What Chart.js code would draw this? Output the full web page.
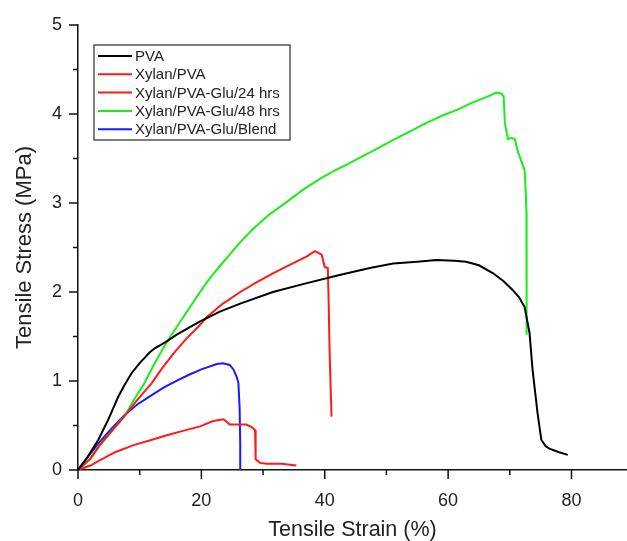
<!DOCTYPE html>
<html>
<head>
<meta charset="utf-8">
<script src="https://cdn.jsdelivr.net/npm/chart.js@4.4.1/dist/chart.umd.min.js"></script>
<style>
  body { margin: 0; background: #fff; }
  canvas { display: block; }
</style>
</head>
<body>
<canvas id="chart" width="627" height="541"></canvas>
<script>
// Datos: deformacion (%) y esfuerzo (MPa)
const strainPVA = [0, 1.5, 3.3, 5, 6.5, 7.5, 8.7, 10.1, 10.8, 11.6, 12.5, 13.5, 14.5, 16, 17.5, 19.8, 23, 26.3, 31.6, 37.1, 42.4, 47.3, 51.1, 55, 58.1, 61, 62.9, 65, 67.3, 69, 70.5, 71.5, 72.4, 73.2, 73.7, 74.5, 75.1, 75.8, 76.4, 78, 79.4];
const stressPVA = [0, 0.14, 0.34, 0.58, 0.82, 0.95, 1.09, 1.21, 1.26, 1.32, 1.37, 1.41, 1.45, 1.52, 1.58, 1.67, 1.78, 1.87, 2.0, 2.1, 2.19, 2.27, 2.32, 2.34, 2.36, 2.35, 2.34, 2.3, 2.21, 2.12, 2.02, 1.94, 1.83, 1.54, 1.12, 0.64, 0.34, 0.27, 0.24, 0.2, 0.17];

const strainXylan = [0, 2, 3.6, 6, 9, 12, 14.4, 17, 19.8, 21.9, 23.6, 24.6, 26, 27.3, 28.2, 28.7, 28.8, 29.5, 30.6, 33, 35.4];
const stressXylan = [0, 0.05, 0.11, 0.2, 0.28, 0.34, 0.39, 0.44, 0.49, 0.55, 0.57, 0.51, 0.51, 0.51, 0.48, 0.45, 0.12, 0.08, 0.07, 0.07, 0.05];

const strain24 = [0, 2, 3.5, 5.5, 7.6, 9.5, 11.9, 13.5, 15.5, 17.5, 19.5, 20.9, 23.5, 26.3, 29, 31.6, 34.5, 37.1, 38.4, 39.5, 40.0, 40.5, 40.6, 40.8, 41.1];
const stress24 = [0, 0.13, 0.28, 0.44, 0.61, 0.78, 0.97, 1.13, 1.31, 1.47, 1.61, 1.72, 1.87, 2.0, 2.11, 2.21, 2.31, 2.4, 2.46, 2.42, 2.28, 2.27, 2.0, 1.3, 0.6];

const strain48 = [0, 2, 3.5, 5.5, 7.6, 9, 10.8, 12.5, 14.6, 17, 19.5, 20.9, 22.5, 24.1, 26.3, 28.4, 31, 33.8, 36.5, 39.2, 41.5, 43.8, 45.7, 48.5, 51.1, 54, 56.5, 59, 61.9, 64, 66.2, 67.8, 68.6, 69, 69.2, 69.7, 70.2, 70.8, 71.3, 72.4, 72.6, 72.7, 72.75, 72.7];
const stress48 = [0, 0.12, 0.27, 0.44, 0.61, 0.78, 0.98, 1.21, 1.46, 1.71, 1.97, 2.11, 2.25, 2.38, 2.56, 2.71, 2.87, 3.01, 3.15, 3.27, 3.36, 3.44, 3.51, 3.61, 3.71, 3.81, 3.9, 3.98, 4.06, 4.13, 4.19, 4.24, 4.23, 4.2, 3.9, 3.72, 3.73, 3.72, 3.58, 3.37, 3.1, 2.89, 2.28, 1.52];

const strainBlend = [0, 1.5, 3.3, 5.5, 7.6, 9.5, 11.7, 14, 16.2, 18, 20, 22.5, 23.5, 24.6, 25.2, 25.7, 26, 26.2, 26.3, 26.3];
const stressBlend = [0, 0.14, 0.3, 0.47, 0.62, 0.73, 0.83, 0.93, 1.01, 1.07, 1.13, 1.19, 1.2, 1.18, 1.13, 1.05, 0.98, 0.7, 0.3, 0];

const seriesNames = ["PVA", "Xylan/PVA", "Xylan/PVA-Glu/24 hrs", "Xylan/PVA-Glu/48 hrs", "Xylan/PVA-Glu/Blend"];
const seriesColors = ["#000000", "#ff1a1a", "#ff1a1a", "#1aee1a", "#1a1aff"];

// Etiquetas de los ejes
const xTickValues = [0, 20, 40, 60, 80];
const yTickValues = [0, 1, 2, 3, 4, 5];

function toPoints(xs, ys) {
    return xs.map((x, i) => ({ x: x, y: ys[i] }));
}

const allSeries = [
    toPoints(strainPVA, stressPVA),
    toPoints(strainXylan, stressXylan),
    toPoints(strain24, stress24),
    toPoints(strain48, stress48),
    toPoints(strainBlend, stressBlend)
];

const fontFamily = "'Liberation Sans', Arial, sans-serif";

// Marcas de los ejes (mayores y menores)
const tickMarks = {
    id: 'tickMarks',
    afterDraw(chart) {
        const c = chart.ctx;
        const xs = chart.scales.x, ys = chart.scales.y;
        const area = chart.chartArea;
        c.save();
        c.strokeStyle = '#111';
        c.lineWidth = 1.5;
        c.beginPath();
        for (let v = 0; v <= 80; v += 10) {
            const px = xs.getPixelForValue(v);
            const len = v % 20 === 0 ? 9 : 5;
            c.moveTo(px, area.bottom);
            c.lineTo(px, area.bottom + len);
        }
        for (let v = 0; v <= 5; v += 0.5) {
            const py = ys.getPixelForValue(v);
            const len = v % 1 === 0 ? 9 : 5;
            c.moveTo(area.left, py);
            c.lineTo(area.left - len, py);
        }
        c.stroke();
        c.restore();
    }
};

// Leyenda dentro del area del grafico
const boxLegend = {
    id: 'boxLegend',
    afterDraw(chart) {
        const c = chart.ctx;
        const left = 94, top = 45, w = 196, h = 95;
        c.save();
        c.strokeStyle = '#555';
        c.lineWidth = 1.5;
        c.fillStyle = '#fff';
        c.fillRect(left, top, w, h);
        c.strokeRect(left, top, w, h);
        c.font = "15px " + fontFamily;
        c.textBaseline = 'middle';
        chart.data.datasets.forEach((ds, i) => {
            const y = 56 + i * 18.3;
            c.strokeStyle = ds.borderColor;
            c.lineWidth = 2;
            c.beginPath();
            c.moveTo(98, y);
            c.lineTo(132, y);
            c.stroke();
            c.fillStyle = '#222';
            c.fillText(ds.label, 135, y + 1);
        });
        c.restore();
    }
};

new Chart(document.getElementById('chart'), {
    type: 'line',
    data: {
        datasets: allSeries.map((pts, i) => ({
            label: seriesNames[i],
            data: pts,
            borderColor: seriesColors[i],
            borderWidth: 2,
            pointRadius: 0,
            tension: 0,
            fill: false
        }))
    },
    options: {
        responsive: false,
        animation: false,
        layout: { padding: { top: 25, right: 0, left: 0, bottom: 0 } },
        plugins: {
            legend: { display: false },
            tooltip: { enabled: false }
        },
        scales: {
            x: {
                type: 'linear',
                min: 0,
                max: 89,
                afterBuildTicks(scale) { scale.ticks = xTickValues.map(v => ({ value: v })); },
                afterFit(scale) { scale.height = 71; },
                grid: { display: false },
                border: { display: true, color: '#111', width: 1.5 },
                ticks: {
                    padding: 12,
                    color: '#222',
                    font: { family: fontFamily, size: 18 }
                },
                title: {
                    display: true,
                    text: 'Tensile Strain (%)',
                    color: '#222',
                    font: { family: fontFamily, size: 21.5, lineHeight: 1 },
                    padding: { top: 0, bottom: 0 }
                }
            },
            y: {
                min: 0,
                max: 5,
                afterBuildTicks(scale) { scale.ticks = yTickValues.map(v => ({ value: v })); },
                afterFit(scale) { scale.width = 78; },
                grid: { display: false },
                border: { display: true, color: '#111', width: 1.5 },
                ticks: {
                    padding: 8,
                    color: '#222',
                    font: { family: fontFamily, size: 18 }
                },
                title: {
                    display: true,
                    text: 'Tensile Stress (MPa)',
                    color: '#222',
                    font: { family: fontFamily, size: 22 },
                    padding: { top: 12, bottom: 0 }
                }
            }
        }
    },
    plugins: [tickMarks, boxLegend]
});
</script>
</body>
</html>
